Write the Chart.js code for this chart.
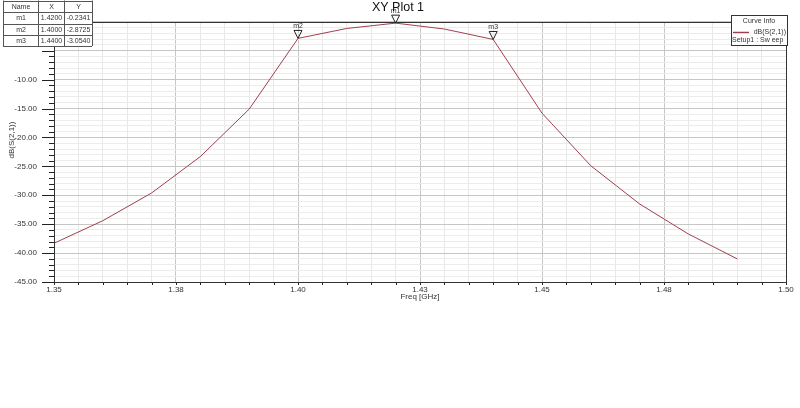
<!DOCTYPE html>
<html>
<head>
<meta charset="utf-8">
<script src="https://cdn.jsdelivr.net/npm/chart.js@4.4.0/dist/chart.umd.min.js"></script>
<style>
  html, body { margin: 0; padding: 0; background: #fff; }
</style>
</head>
<body>
<canvas id="plot" width="800" height="408"></canvas>
<script>
// sweep data
const freqGHz = [1.35, 1.36, 1.37, 1.38, 1.39, 1.40, 1.41, 1.42, 1.43, 1.44, 1.45, 1.46, 1.47, 1.48, 1.49];
const dbS21 = [-38.3, -34.4, -29.6, -23.3, -15.1, -2.87, -1.15, -0.23, -1.25, -3.05, -15.8, -24.9, -31.5, -36.7, -41.0];

// markers
const markerNames = ['m1', 'm2', 'm3'];
const markerX = [1.42, 1.40, 1.44];
const markerY = [-0.2341, -2.8725, -3.0540];

// axis ticks
const xLabelTicks = [1.35, 1.375, 1.40, 1.425, 1.45, 1.475, 1.50];
const xTickLabels = ['1.35', '1.38', '1.40', '1.43', '1.45', '1.48', '1.50'];
const yLabelTicks = [-10, -15, -20, -25, -30, -35, -40, -45];
const yTickLabels = ['-10.00', '-15.00', '-20.00', '-25.00', '-30.00', '-35.00', '-40.00', '-45.00'];

const FONT = "'Liberation Sans', Arial, sans-serif";
const X_MIN = 1.35, X_MAX = 1.50, X_MINOR = 0.005;
const Y_MIN = -45, Y_MAX = 0, Y_MINOR = 1;

const isXMajor = v => xLabelTicks.some(t => Math.abs(t - v) < 1e-6);
const isYMajor = v => Math.abs(v % 5) < 1e-6;

// axis ticks, frame, title, marker table, curve info and markers
const decorations = {
  id: 'decorations',
  afterDraw(chart) {
    const ctx = chart.ctx;
    const area = chart.chartArea;
    const xs = chart.scales.x, ys = chart.scales.y;
    ctx.save();

    // tick marks
    ctx.strokeStyle = '#222';
    ctx.lineWidth = 1;
    ctx.beginPath();
    ys.ticks.forEach(t => {
      const y = Math.round(ys.getPixelForValue(t.value)) + 0.5;
      const len = isYMajor(t.value) ? 12 : 5;
      ctx.moveTo(area.left - len, y);
      ctx.lineTo(area.left, y);
    });
    xs.ticks.forEach(t => {
      const x = Math.round(xs.getPixelForValue(t.value)) + 0.5;
      ctx.moveTo(x, area.bottom);
      ctx.lineTo(x, area.bottom + 3);
    });
    ctx.stroke();

    // frame
    ctx.strokeStyle = '#333';
    ctx.strokeRect(Math.round(area.left) + 0.5, Math.round(area.top) + 0.5,
      Math.round(area.right - area.left), Math.round(area.bottom - area.top));

    // axis titles
    ctx.fillStyle = '#333';
    ctx.font = '8px ' + FONT;
    ctx.textAlign = 'center';
    ctx.textBaseline = 'middle';
    ctx.fillText('Freq [GHz]', (area.left + area.right) / 2, 297);
    ctx.save();
    ctx.translate(12, 140);
    ctx.rotate(-Math.PI / 2);
    ctx.fillText('dB(S(2,1))', 0, 0);
    ctx.restore();

    // markers
    ctx.strokeStyle = '#222';
    ctx.font = '7px ' + FONT;
    markerNames.forEach((name, i) => {
      const px = xs.getPixelForValue(markerX[i]);
      const py = ys.getPixelForValue(markerY[i]);
      ctx.beginPath();
      ctx.moveTo(px, py);
      ctx.lineTo(px - 4, py - 8);
      ctx.lineTo(px + 4, py - 8);
      ctx.closePath();
      ctx.stroke();
      ctx.fillText(name, px, py - 12);
    });

    // title
    ctx.fillStyle = '#111';
    ctx.font = '12.5px ' + FONT;
    ctx.fillText('XY Plot 1', 398, 8);

    // marker table
    const cols = [3, 38, 64, 92];
    const rows = [0.5, 12, 23.5, 35, 46];
    ctx.fillStyle = '#fff';
    ctx.fillRect(cols[0], rows[0], cols[3] - cols[0], rows[4] - rows[0]);
    ctx.strokeStyle = '#555';
    ctx.beginPath();
    cols.forEach(c => { ctx.moveTo(c + 0.5, rows[0]); ctx.lineTo(c + 0.5, rows[4]); });
    rows.forEach(r => { ctx.moveTo(cols[0], Math.round(r) + 0.5); ctx.lineTo(cols[3], Math.round(r) + 0.5); });
    ctx.stroke();
    ctx.fillStyle = '#333';
    ctx.font = '7px ' + FONT;
    const cell = (txt, c, r) => ctx.fillText(txt, (cols[c] + cols[c + 1]) / 2 + 0.5, (rows[r] + rows[r + 1]) / 2 + 0.5);
    cell('Name', 0, 0); cell('X', 1, 0); cell('Y', 2, 0);
    markerNames.forEach((name, i) => {
      cell(name, 0, i + 1);
      cell(markerX[i].toFixed(4), 1, i + 1);
      cell(markerY[i].toFixed(4), 2, i + 1);
    });

    // curve info box
    const bx = 731, by = 15, bw = 56, bh = 30;
    ctx.fillStyle = '#fff';
    ctx.fillRect(bx, by, bw, bh);
    ctx.strokeStyle = '#333';
    ctx.strokeRect(bx + 0.5, by + 0.5, bw, bh);
    ctx.fillStyle = '#333';
    ctx.textAlign = 'center';
    ctx.fillText('Curve Info', bx + bw / 2, by + 6);
    ctx.strokeStyle = chart.data.datasets[0].borderColor;
    ctx.lineWidth = 1.5;
    ctx.beginPath();
    ctx.moveTo(bx + 2, by + 17.5);
    ctx.lineTo(bx + 18, by + 17.5);
    ctx.stroke();
    ctx.textAlign = 'right';
    ctx.fillText('dB(S(2,1))', bx + bw - 1, by + 17);
    ctx.textAlign = 'left';
    ctx.fillText('Setup1 : Sw eep', bx + 1, by + 25);

    ctx.restore();
  }
};

new Chart(document.getElementById('plot').getContext('2d'), {
  type: 'line',
  data: {
    datasets: [{
      label: 'dB(S(2,1))',
      data: freqGHz.map((f, i) => ({ x: f, y: dbS21[i] })),
      borderColor: '#a0404e',
      borderWidth: 1,
      pointRadius: 0,
      tension: 0,
      fill: false
    }]
  },
  options: {
    responsive: false,
    animation: false,
    devicePixelRatio: 1,
    layout: { padding: { left: 0, right: 14, top: 16, bottom: 0 } },
    plugins: {
      legend: { display: false },
      tooltip: { enabled: false },
      title: { display: false }
    },
    scales: {
      x: {
        type: 'linear',
        min: X_MIN,
        max: X_MAX,
        afterBuildTicks: scale => {
          const ticks = [];
          for (let k = 0; k <= Math.round((X_MAX - X_MIN) / X_MINOR); k++) {
            ticks.push({ value: X_MIN + k * X_MINOR });
          }
          scale.ticks = ticks;
        },
        afterFit: scale => { scale.height = 408 - 282; },
        grid: {
          drawTicks: false,
          color: c => (c.tick && isXMajor(c.tick.value)) ? '#c6c6c6' : '#e8e8e8',
          lineWidth: 1
        },
        border: { display: false },
        ticks: {
          autoSkip: false,
          maxRotation: 0,
          padding: 3,
          color: '#333',
          font: { family: FONT, size: 8 },
          callback: v => {
            const i = xLabelTicks.findIndex(t => Math.abs(t - v) < 1e-6);
            return i >= 0 ? xTickLabels[i] : '';
          }
        }
      },
      y: {
        type: 'linear',
        min: Y_MIN,
        max: Y_MAX,
        afterBuildTicks: scale => {
          const ticks = [];
          for (let v = Y_MAX; v >= Y_MIN; v -= Y_MINOR) ticks.push({ value: v });
          scale.ticks = ticks;
        },
        afterFit: scale => { scale.width = 54; },
        grid: {
          drawTicks: false,
          color: c => (c.tick && isYMajor(c.tick.value)) ? '#c6c6c6' : '#ececec',
          lineWidth: 1
        },
        border: { display: false },
        ticks: {
          autoSkip: false,
          padding: 17,
          color: '#333',
          font: { family: FONT, size: 8 },
          callback: v => {
            const i = yLabelTicks.findIndex(t => Math.abs(t - v) < 1e-6);
            return i >= 0 ? yTickLabels[i] : '';
          }
        }
      }
    }
  },
  plugins: [decorations]
});
</script>
</body>
</html>
